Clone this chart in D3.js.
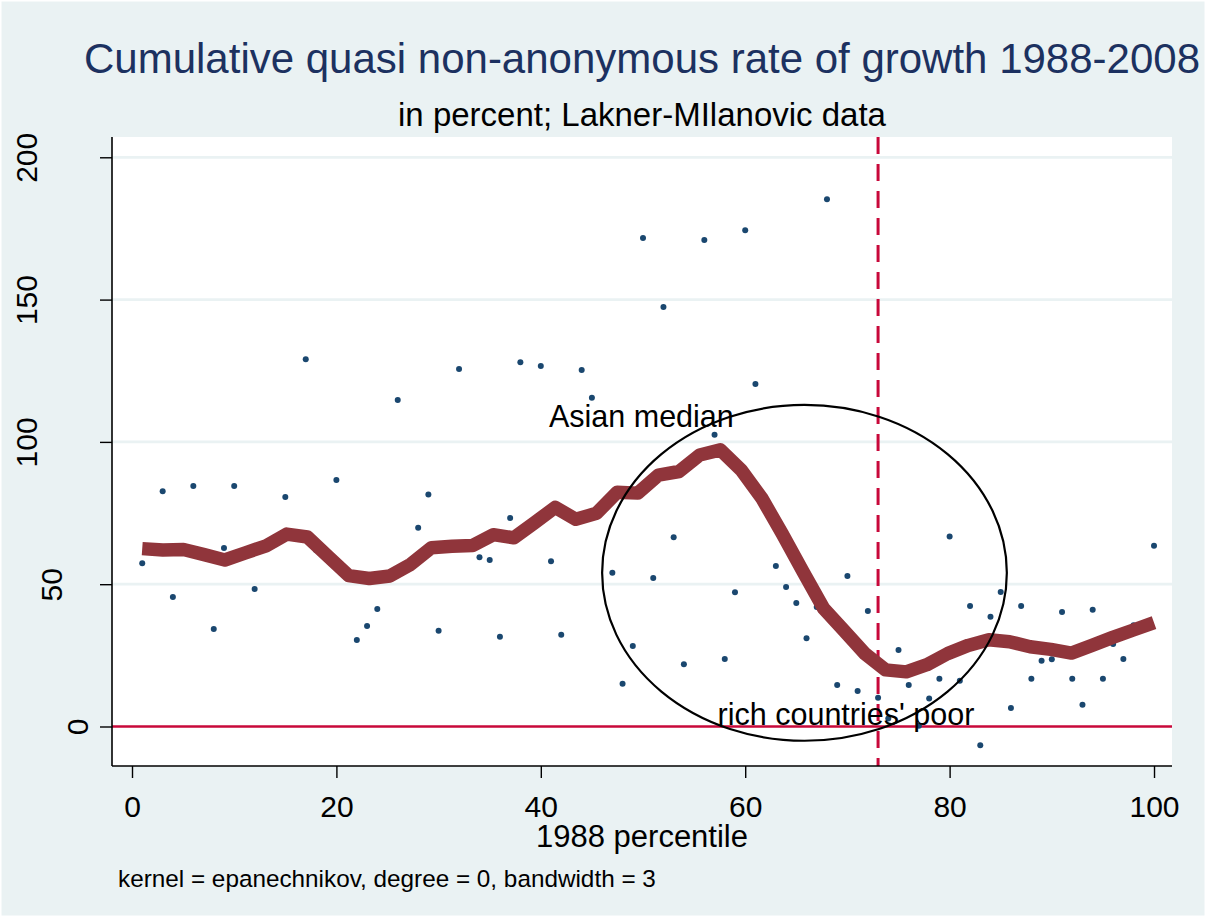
<!DOCTYPE html>
<html><head><meta charset="utf-8">
<script src="https://cdn.jsdelivr.net/npm/d3@7"></script>
<style>
body{margin:0;background:#eaf2f3;}
svg{display:block;font-family:"Liberation Sans",Arial,Helvetica,sans-serif;}
</style>
</head><body>
<svg id="chart" width="1206" height="917"></svg>
<script>
// ---- data ----
const pointX = [1,3,4,6,8,9,10,12,15,17,18,20,22,23,24,26,28,29,30,32,34,35,36,37,38,40,41,42,44,45,47,48,49,50,51,52,53,54,56,57,58,59,60,61,63,64,65,66,67,68,69,70,71,72,73,74,75,76,77,78,79,80,81,82,83,84,85,86,87,88,89,90,91,92,93,94,95,96,97,98,100];
const pointY = [57.4,82.7,45.5,84.5,34.3,62.7,84.5,48.3,80.6,129,62,86.6,30.4,35.3,41.3,114.7,69.8,81.5,33.6,125.6,59.5,58.5,31.5,73.3,128,126.7,58.1,32.2,125.3,115.5,54,15,28.3,171.6,52.2,147.4,66.5,21.9,170.9,102.5,23.7,47.2,174.4,120.3,56.4,49,43.4,31,42,185.3,14.6,52.9,12.5,40.6,10.1,2.8,26.9,14.6,0.3,9.8,16.8,66.8,16.1,42.3,-6.6,38.6,47.3,6.5,42.3,16.8,23.1,23.6,40.2,16.8,7.6,41,16.8,29,23.7,35.6,63.5];

const smoothX = [1.00,3.02,5.04,7.06,9.08,11.10,13.12,15.14,17.16,19.18,21.20,23.22,25.24,27.27,29.29,31.31,33.33,35.35,37.37,39.39,41.41,43.43,45.45,47.47,49.49,51.51,53.53,55.55,57.57,59.59,61.61,63.63,65.65,67.67,69.69,71.71,73.73,75.76,77.78,79.80,81.82,83.84,85.86,87.88,89.90,91.92,93.94,95.96,97.98,100.00];
const smoothY = [62.5,62.0,62.2,60.4,58.5,61.0,63.5,67.6,66.6,59.8,53.0,52.0,52.9,57.0,62.8,63.3,63.6,67.4,66.3,71.6,77.0,72.8,74.9,82.3,82.0,88.3,89.6,95.4,97.2,90.2,80.3,67.7,54.5,41.5,33.6,25.6,19.9,19.2,21.7,25.6,28.5,30.5,29.8,28.0,27.1,25.8,28.5,31.3,33.9,36.5];

const xTicks = [0,20,40,60,80,100];
const yTicks = [0,50,100,150,200];
const gridValues = [50,100,150,200];
const refLineX = 73;
const refLineY = 0;
const ellipseData = {cx:65.8, cy:54, rx:19.8, ry:59};
const annotations = [
  {text:"Asian median", x:40.8, y:105.2},
  {text:"rich countries' poor", x:57.3, y:0.5}
];
const titleText = "Cumulative quasi non-anonymous rate of growth 1988-2008";
const subtitleText = "in percent; Lakner-MIlanovic data";
const xTitle = "1988 percentile";
const noteText = "kernel = epanechnikov, degree = 0, bandwidth = 3";

// ---- layout ----
const W = 1206, H = 917;
const plot = {left:112, right:1172, top:137, bottom:766};
const svg = d3.select("#chart");

const x = d3.scaleLinear().domain([-1.957, 101.76]).range([plot.left, plot.right]);
const y = d3.scaleLinear().domain([-13.88, 207.13]).range([plot.bottom, plot.top]);

// background
svg.append("rect").attr("width",W).attr("height",H).attr("fill","#eaf2f3")
  .attr("stroke","#ffffff").attr("stroke-width",3);
svg.append("rect").attr("x",plot.left).attr("y",plot.top)
  .attr("width",plot.right-plot.left).attr("height",plot.bottom-plot.top).attr("fill","#ffffff");

// gridlines
svg.append("g").selectAll("line").data(gridValues).join("line")
  .attr("x1",plot.left).attr("x2",plot.right)
  .attr("y1",d=>y(d)).attr("y2",d=>y(d))
  .attr("stroke","#eaf2f3").attr("stroke-width",2.7);

// zero line
svg.append("line").attr("x1",plot.left).attr("x2",plot.right)
  .attr("y1",y(refLineY)).attr("y2",y(refLineY))
  .attr("stroke","#c8083a").attr("stroke-width",2.7);

// vertical dashed line
svg.append("line").attr("x1",x(refLineX)).attr("x2",x(refLineX))
  .attr("y1",plot.top).attr("y2",plot.bottom)
  .attr("stroke","#c8083a").attr("stroke-width",3).attr("stroke-dasharray","17,10");

// points
svg.append("g").selectAll("circle").data(pointX.map((d,i)=>[d,pointY[i]])).join("circle")
  .attr("cx",d=>x(d[0])).attr("cy",d=>y(d[1])).attr("r",3).attr("fill","#1a476f");

// smoothed line
const line = d3.line().x(d=>x(d[0])).y(d=>y(d[1]));
svg.append("path").datum(smoothX.map((d,i)=>[d,smoothY[i]]))
  .attr("d",line).attr("fill","none").attr("stroke","#90353b")
  .attr("stroke-width",13.5).attr("stroke-linejoin","round");

// annotations
svg.append("g").selectAll("text").data(annotations).join("text")
  .attr("x",d=>x(d.x)).attr("y",d=>y(d.y)).attr("font-size",30.5).attr("fill","#000")
  .text(d=>d.text);

// ellipse
svg.append("ellipse")
  .attr("cx",x(ellipseData.cx)).attr("cy",y(ellipseData.cy))
  .attr("rx",x(ellipseData.rx)-x(0)).attr("ry",y(0)-y(ellipseData.ry))
  .attr("fill","none").attr("stroke","#000").attr("stroke-width",2.2);

// axes
const xAxis = d3.axisBottom(x).tickValues(xTicks).tickSize(12).tickSizeOuter(0);
const gx = svg.append("g").attr("transform",`translate(0,${plot.bottom})`).call(xAxis);
gx.select(".domain").attr("d",`M${plot.left},0H${plot.right}`).attr("stroke","#000").attr("stroke-width",1.6);
gx.selectAll(".tick line").attr("stroke","#000").attr("stroke-width",1.4);
gx.selectAll(".tick text").attr("font-size",30).attr("fill","#000")
  .attr("font-family",null).attr("dy",null).attr("y",51);

const yAxis = d3.axisLeft(y).tickValues(yTicks).tickSize(12).tickSizeOuter(0);
const gy = svg.append("g").attr("transform",`translate(${plot.left},0)`).call(yAxis);
gy.select(".domain").attr("d",`M0,${plot.top}V${plot.bottom}`).attr("stroke","#000").attr("stroke-width",1.6);
gy.selectAll(".tick line").attr("stroke","#000").attr("stroke-width",1.4);
gy.selectAll(".tick text").attr("font-size",30).attr("fill","#000")
  .attr("x",null).attr("font-family",null)
  .attr("text-anchor","middle")
  .attr("transform",d=>{const n=String(d).length; const cx = 103 - 25.75*n - plot.left; return `translate(${cx},0) rotate(-90)`;})
  .attr("dy","0.36em");
svg.selectAll(".domain").attr("fill","none");

// titles
const midX = (plot.left+plot.right)/2;
svg.append("text").attr("x",midX).attr("y",73).attr("text-anchor","middle")
  .attr("font-size",42).attr("fill","#1c3160").text(titleText);
svg.append("text").attr("x",midX).attr("y",126).attr("text-anchor","middle")
  .attr("font-size",33).attr("fill","#000").text(subtitleText);
svg.append("text").attr("x",midX).attr("y",847).attr("text-anchor","middle")
  .attr("font-size",31).attr("fill","#000").text(xTitle);
svg.append("text").attr("x",118).attr("y",887).attr("text-anchor","start")
  .attr("font-size",24.3).attr("fill","#000").text(noteText);
</script>
</body></html>
